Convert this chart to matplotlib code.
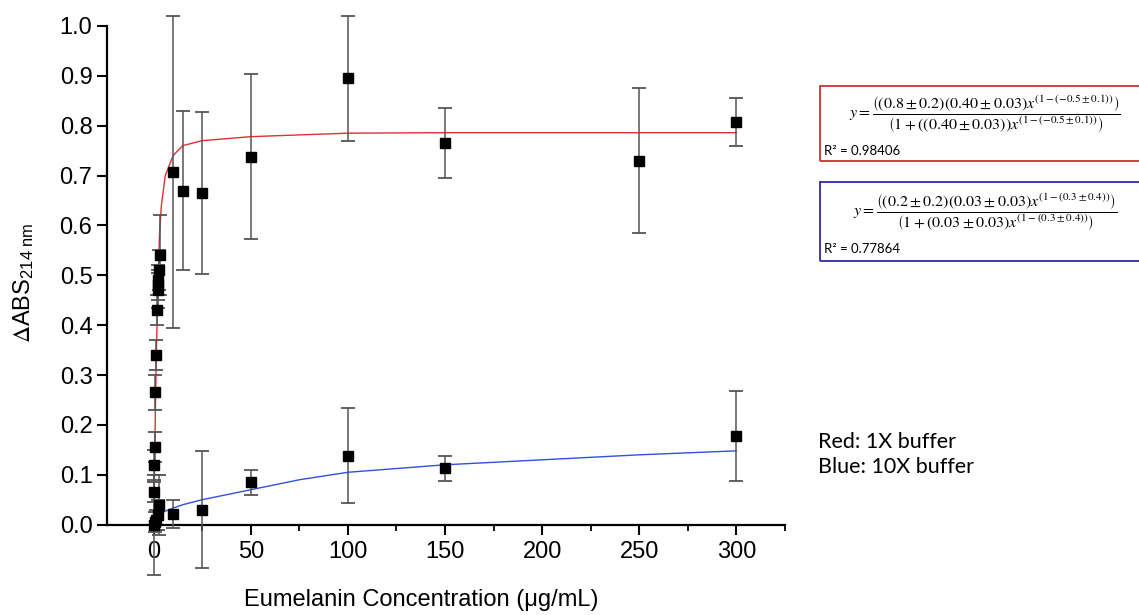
import numpy as np
import matplotlib.pyplot as plt
from matplotlib.patches import Rectangle
from matplotlib.ticker import MultipleLocator

plt.rcParams["font.family"] = ["Liberation Sans", "DejaVu Sans"]
plt.rcParams["mathtext.fontset"] = "stix"

# 1X buffer (red fit)
red_x = [0.1, 0.3, 0.5, 0.8, 1.0, 1.5, 2.0, 2.2, 2.5, 2.8, 3.2, 10, 15, 25, 50, 100, 150, 250, 300]
red_y = [0.065, 0.12, 0.155, 0.265, 0.34, 0.43, 0.47, 0.48, 0.49, 0.51, 0.54,
         0.707, 0.670, 0.665, 0.738, 0.895, 0.765, 0.730, 0.808]
red_err = [0.02, 0.03, 0.03, 0.035, 0.03, 0.03, 0.035, 0.03, 0.03, 0.04, 0.08,
           0.313, 0.16, 0.163, 0.165, 0.125, 0.07, 0.145, 0.048]

# 10X buffer (blue fit)
blue_x = [0.1, 0.5, 1, 2, 3, 10, 25, 50, 100, 150, 300]
blue_y = [0.0, 0.005, 0.01, 0.02, 0.04, 0.022, 0.03, 0.085, 0.138, 0.113, 0.178]
blue_err = [0.1, 0.02, 0.02, 0.03, 0.06, 0.028, 0.117, 0.025, 0.095, 0.025, 0.09]

# fitted curves
red_fit_x = [0, 0.3, 0.6, 1, 1.5, 2, 3, 4, 6, 10, 15, 25, 50, 100, 150, 200, 250, 300]
red_fit_y = [0, 0.05, 0.15, 0.25, 0.36, 0.44, 0.58, 0.64, 0.70, 0.74, 0.76, 0.77,
             0.778, 0.785, 0.786, 0.786, 0.786, 0.786]
blue_fit_x = [0, 1, 3, 6, 10, 15, 25, 35, 50, 75, 100, 150, 200, 250, 300]
blue_fit_y = [0, 0.012, 0.02, 0.027, 0.033, 0.04, 0.05, 0.058, 0.07, 0.09, 0.105,
              0.12, 0.13, 0.14, 0.148]

x_ticks = [0, 50, 100, 150, 200, 250, 300]
y_ticks = [0.0, 0.1, 0.2, 0.3, 0.4, 0.5, 0.6, 0.7, 0.8, 0.9, 1.0]

W, H = 1139, 615


def fx(px):
    return px / W


def fy(py):
    return (H - py) / H


fig = plt.figure(figsize=(W / 100, H / 100), dpi=100)
ax = fig.add_axes([fx(107), fy(577), fx(785) - fx(107), fy(11) - fy(577)])

ax.plot(red_fit_x, red_fit_y, color="#e03030", lw=1.0, zorder=2)
ax.plot(blue_fit_x, blue_fit_y, color="#3050e0", lw=1.0, zorder=2)

for xs, ys, es in [(red_x, red_y, red_err), (blue_x, blue_y, blue_err)]:
    ax.errorbar(xs, ys, yerr=es, fmt="s", color="black", ms=7.5,
                ecolor="#555555", elinewidth=1.1, capsize=5, capthick=1.3,
                zorder=3, clip_on=False)

ax.set_xlim(-24, 325)
ax.set_ylim(-0.105, 1.03)
ax.spines["top"].set_visible(False)
ax.spines["right"].set_visible(False)
ax.spines["bottom"].set_position(("data", 0))
ax.spines["left"].set_bounds(0, 1.0)
ax.spines["left"].set_linewidth(1.6)
ax.spines["bottom"].set_linewidth(1.6)

ax.set_xticks(x_ticks)
ax.set_yticks(y_ticks)
ax.set_yticklabels([f"{v:.1f}" for v in y_ticks])
ax.xaxis.set_minor_locator(MultipleLocator(25))
ax.tick_params(axis="both", which="major", direction="out", length=7, width=1.5,
               labelsize=17)
ax.tick_params(axis="x", which="minor", direction="out", length=4, width=1.3)
ax.tick_params(axis="x", pad=5)

fig.text(fx(421), fy(600), "Eumelanin Concentration (\u03bcg/mL)", fontsize=17,
         ha="center", va="center")
fig.text(fx(24), fy(283), r"$\Delta$ABS$_{\mathregular{214\ nm}}$", fontsize=17,
         rotation=90, ha="center", va="center")

# equation boxes
fig.patches.append(Rectangle((fx(820), fy(161)), fx(W + 5) - fx(820), fy(86) - fy(161),
                             transform=fig.transFigure, fill=False,
                             edgecolor="#cc3333", lw=1.3, clip_on=False))
fig.patches.append(Rectangle((fx(820), fy(261)), fx(W + 5) - fx(820), fy(182) - fy(261),
                             transform=fig.transFigure, fill=False,
                             edgecolor="#2a2aa8", lw=1.3, clip_on=False))

eq_red = (r"$y=\dfrac{\left((0.8\pm0.2)(0.40\pm0.03)x^{(1-(-0.5\pm0.1))}\right)}"
          r"{\left(1+\left((0.40\pm0.03)\right)x^{(1-(-0.5\pm0.1))}\right)}$")
eq_blue = (r"$y=\dfrac{\left((0.2\pm0.2)(0.03\pm0.03)x^{(1-(0.3\pm0.4))}\right)}"
           r"{\left(1+(0.03\pm0.03)x^{(1-(0.3\pm0.4))}\right)}$")
fig.text(fx(985), fy(114), eq_red, fontsize=11.5, ha="center", va="center")
fig.text(fx(985), fy(212), eq_blue, fontsize=11.5, ha="center", va="center")
fig.text(fx(824), fy(151), "R\u00b2 = 0.98406", fontsize=9.5, ha="left", va="center",
         family=["Lato", "DejaVu Sans"])
fig.text(fx(824), fy(249), "R\u00b2 = 0.77864", fontsize=9.5, ha="left", va="center",
         family=["Lato", "DejaVu Sans"])

fig.text(fx(818), fy(442), "Red: 1X buffer", fontsize=15.5, ha="left", va="center",
         family=["Lato", "DejaVu Sans"])
fig.text(fx(818), fy(467), "Blue: 10X buffer", fontsize=15.5, ha="left", va="center",
         family=["Lato", "DejaVu Sans"])

fig.savefig("out.png", dpi=100)
